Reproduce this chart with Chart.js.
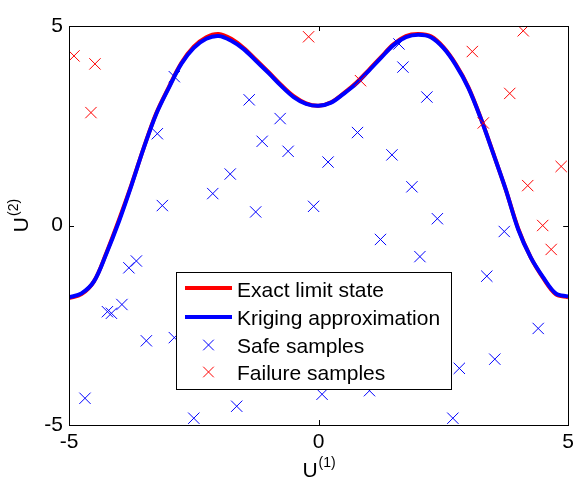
<!DOCTYPE html>
<html lang="en">
<head>
  <meta charset="UTF-8" />
  <title>Limit state vs Kriging approximation</title>
  <script src="https://cdn.jsdelivr.net/npm/chart.js"></script>
  <style>
    body { margin: 0; padding: 0; background: #fff; }
    #chart { display: block; }
  </style>
</head>
<body>
  <canvas id="chart" width="579" height="480"></canvas>

  <script>
    // limit state curves
    const curveX = [-5, -4.75, -4.5, -4.25, -4, -3.75, -3.5, -3.25, -3, -2.75, -2.5, -2.25, -2, -1.75, -1.5, -1.25, -1, -0.75, -0.5, -0.25,
                    0, 0.25, 0.5, 0.75, 1, 1.25, 1.5, 1.75, 2, 2.25, 2.5, 2.75, 3, 3.25, 3.5, 3.75, 4, 4.25, 4.5, 4.75, 5];
    const exactY = [-1.82, -1.72, -1.4, -0.68, 0.14, 1.02, 1.96, 2.82, 3.47, 4.07, 4.48, 4.72, 4.8, 4.68, 4.45, 4.15, 3.84, 3.52, 3.24, 3.06,
                    3.0, 3.09, 3.31, 3.57, 3.89, 4.22, 4.54, 4.75, 4.8, 4.74, 4.47, 4.04, 3.47, 2.69, 1.81, 0.9, -0.08, -0.8, -1.32, -1.72, -1.8];
    const krigingY = [-1.8, -1.7, -1.4, -0.7, 0.1, 1.0, 1.95, 2.8, 3.45, 4.05, 4.45, 4.68, 4.75, 4.63, 4.42, 4.12, 3.82, 3.5, 3.22, 3.05,
                      3.0, 3.08, 3.3, 3.55, 3.87, 4.2, 4.52, 4.72, 4.78, 4.72, 4.45, 4.02, 3.45, 2.68, 1.8, 0.9, -0.1, -0.8, -1.3, -1.7, -1.78];

    // samples
    const safeX = [-2.89, -3.23, -3.13, -1.39, -0.77, -1.13, -0.61, -1.77, -2.12, -1.26, -0.10, 1.61, 1.69, 2.17, 0.78, 0.19, 1.47, 1.87, 2.38, 3.72,
                   1.24, 2.03, 3.37, 4.40, 3.53, 2.82, 0.07, 1.02, 2.69, -3.65, -3.80, -3.94, -4.23, -4.15, -3.45, -2.89, -4.68, -2.50, -1.64];
    const safeY = [3.73, 2.30, 0.50, 3.15, 2.68, 2.11, 1.86, 1.29, 0.80, 0.34, 0.48, 4.55, 3.97, 3.22, 2.33, 1.59, 1.77, 0.97, 0.17, -0.15,
                   -0.35, -0.78, -1.27, -2.58, -3.35, -3.58, -4.23, -4.14, -4.83, -0.89, -1.06, -1.98, -2.16, -2.20, -2.89, -2.81, -4.33, -4.83, -4.53];
    const failX = [-4.90, -4.48, -4.56, -0.20, 0.84, 3.08, 4.10, 3.83, 3.30, 4.86, 4.19, 4.49, 4.66];
    const failY = [4.25, 4.05, 2.83, 4.73, 3.63, 4.36, 4.88, 3.31, 2.57, 1.48, 1.00, 0.00, -0.60];

    const axisTicks = [-5, 0, 5];
    const legendLabels = ['Exact limit state', 'Kriging approximation', 'Safe samples', 'Failure samples'];
    const xTitle = ['U', '(1)'];
    const yTitle = ['U', '(2)'];

    const FONT = '"Liberation Sans", Arial, Helvetica, sans-serif';
    const RED = '#ff0000';
    const BLUE = '#0000ff';

    function pts(xs, ys) {
      return xs.map((x, i) => ({ x: x, y: ys[i] }));
    }

    function cross(ctx, color, x, y) {
      ctx.strokeStyle = color;
      ctx.lineWidth = 1;
      Chart.helpers.drawPoint(ctx, { pointStyle: 'crossRot', radius: 7.5, borderWidth: 1 }, x, y);
    }

    // box, inward ticks, legend and axis titles
    const matlabLook = {
      id: 'matlabLook',
      afterDatasetsDraw(chart) {
        const ctx = chart.ctx;
        const a = chart.chartArea;
        const xs = chart.scales.x, ys = chart.scales.y;
        ctx.save();
        ctx.strokeStyle = '#000';
        ctx.lineWidth = 1;
        ctx.beginPath();
        axisTicks.forEach(v => {
          const px = Math.round(xs.getPixelForValue(v)) + 0.5;
          ctx.moveTo(px, a.bottom); ctx.lineTo(px, a.bottom - 5);
          ctx.moveTo(px, a.top); ctx.lineTo(px, a.top + 5);
          const py = Math.round(ys.getPixelForValue(v)) + 0.5;
          ctx.moveTo(a.left, py); ctx.lineTo(a.left + 5, py);
          ctx.moveTo(a.right, py); ctx.lineTo(a.right - 5, py);
        });
        ctx.stroke();
        ctx.strokeRect(Math.round(a.left) + 0.5, Math.round(a.top) + 0.5, Math.round(a.right - a.left), Math.round(a.bottom - a.top));

        // legend
        const lx = 176.5, ly = 272.5, lw = 275, lh = 117;
        ctx.fillStyle = '#fff';
        ctx.fillRect(lx, ly, lw, lh);
        ctx.strokeRect(lx, ly, lw, lh);
        const rows = [290, 318, 346, 373];
        ctx.lineWidth = 4;
        ctx.strokeStyle = RED;
        ctx.beginPath(); ctx.moveTo(185, 288); ctx.lineTo(232, 288); ctx.stroke();
        ctx.strokeStyle = BLUE;
        ctx.beginPath(); ctx.moveTo(185, 317); ctx.lineTo(232, 317); ctx.stroke();
        cross(ctx, BLUE, 208.5, 345);
        cross(ctx, RED, 208.5, 372);
        ctx.fillStyle = '#000';
        ctx.font = '21px ' + FONT;
        ctx.textAlign = 'left';
        ctx.textBaseline = 'middle';
        legendLabels.forEach((t, i) => ctx.fillText(t, 237, rows[i] + 1));
        ctx.restore();
      },
      afterDraw(chart) {
        const ctx = chart.ctx;
        ctx.save();
        ctx.fillStyle = '#000';
        ctx.textBaseline = 'alphabetic';
        ctx.textAlign = 'left';
        // x title
        ctx.font = '21px ' + FONT;
        const uw = ctx.measureText(xTitle[0]).width;
        ctx.font = '14px ' + FONT;
        const sw = ctx.measureText(xTitle[1]).width;
        const cx = (chart.chartArea.left + chart.chartArea.right) / 2;
        let x0 = cx - (uw + sw) / 2;
        ctx.font = '21px ' + FONT;
        ctx.fillText(xTitle[0], x0, 477);
        ctx.font = '14px ' + FONT;
        ctx.fillText(xTitle[1], x0 + uw + 1, 467);
        // y title
        ctx.translate(28, 216);
        ctx.rotate(-Math.PI / 2);
        x0 = -(uw + sw) / 2;
        ctx.font = '21px ' + FONT;
        ctx.fillText(yTitle[0], x0, 0);
        ctx.font = '14px ' + FONT;
        ctx.fillText(yTitle[1], x0 + uw + 1, -10);
        ctx.restore();
      }
    };

    new Chart(document.getElementById('chart'), {
      type: 'scatter',
      data: {
        datasets: [
          { label: legendLabels[2], data: pts(safeX, safeY), pointStyle: 'crossRot', pointRadius: 8, pointBorderWidth: 1,
            borderColor: BLUE, backgroundColor: BLUE, order: 0 },
          { label: legendLabels[3], data: pts(failX, failY), pointStyle: 'crossRot', pointRadius: 8, pointBorderWidth: 1,
            borderColor: RED, backgroundColor: RED, order: 1 },
          { label: legendLabels[1], data: pts(curveX, krigingY), showLine: true, pointRadius: 0, borderWidth: 4,
            borderColor: BLUE, tension: 0.35, order: 2 },
          { label: legendLabels[0], data: pts(curveX, exactY), showLine: true, pointRadius: 0, borderWidth: 4,
            borderColor: RED, tension: 0.35, order: 3 }
        ]
      },
      options: {
        responsive: false,
        animation: false,
        events: [],
        layout: { padding: { left: 0, right: 8, top: 26, bottom: 0 } },
        plugins: { legend: { display: false }, tooltip: { enabled: false } },
        scales: {
          x: {
            type: 'linear', min: -5, max: 5,
            afterFit: s => { s.height = 55; },
            afterBuildTicks: s => { s.ticks = axisTicks.map(v => ({ value: v })); },
            grid: { display: false, drawTicks: false },
            border: { display: false },
            ticks: { color: '#000', padding: 5, maxRotation: 0, font: { family: FONT, size: 21 } }
          },
          y: {
            type: 'linear', min: -5, max: 5,
            afterFit: s => { s.width = 69; },
            afterBuildTicks: s => { s.ticks = axisTicks.map(v => ({ value: v })); },
            grid: { display: false, drawTicks: false },
            border: { display: false },
            ticks: { color: '#000', padding: 6, font: { family: FONT, size: 21 } }
          }
        }
      },
      plugins: [matlabLook]
    });
  </script>
</body>
</html>
